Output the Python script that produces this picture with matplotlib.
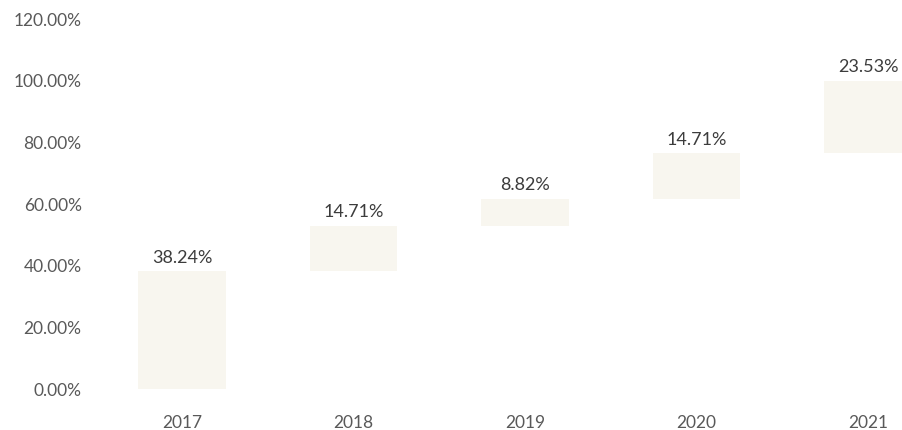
import matplotlib.pyplot as plt
import numpy as np

# yearly increments, stacked as a waterfall
years = ['2017', '2018', '2019', '2020', '2021']
increments = [38.24, 14.71, 8.82, 14.71, 23.53]
value_labels = ['38.24%', '14.71%', '8.82%', '14.71%', '23.53%']
y_ticks = [0, 20, 40, 60, 80, 100, 120]

plt.rcParams['font.family'] = ['Lato', 'DejaVu Sans']

tops = np.cumsum(increments)
bottoms = tops - np.array(increments)
x = np.arange(len(years))

fig = plt.figure(figsize=(9.02, 4.30), dpi=100)
ax = fig.add_axes([0.1275, 0.0953, 0.930, 0.8605])

ax.bar(x, increments, bottom=bottoms, width=0.51, color='#f8f6ef', edgecolor='none')

for xi, top, lab in zip(x, tops, value_labels):
    ax.text(xi, top + 1.8, lab, ha='center', va='bottom', fontsize=13, color='#3c3c3c')

ax.set_xlim(-0.39, 4.5)
ax.set_ylim(0, 120)
ax.set_xticks(x)
ax.set_xticklabels(years)
ax.set_yticks(y_ticks)
ax.set_yticklabels([f'{v:.2f}%' for v in y_ticks])
ax.tick_params(axis='both', length=0, labelsize=12.5, labelcolor='#595959')
ax.tick_params(axis='x', pad=19)
ax.tick_params(axis='y', pad=24)
for s in ax.spines.values():
    s.set_visible(False)

fig.savefig('out.png', dpi=100)
